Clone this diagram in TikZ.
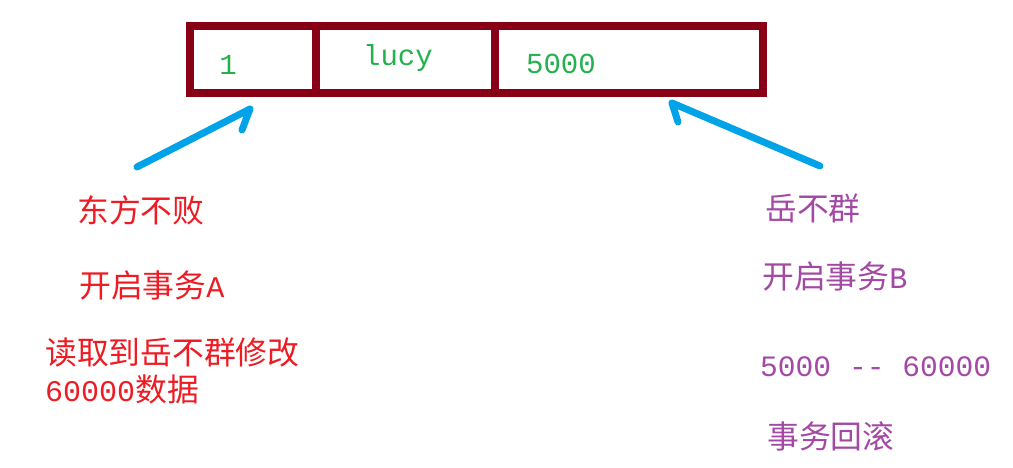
\documentclass[tikz,border=0pt]{standalone}
\usepackage{fontspec}
\setmainfont{Liberation Mono}
\newfontfamily\cjk[Scale=1.06]{Noto Sans CJK SC}
\definecolor{framered}{HTML}{880015}
\definecolor{cellgreen}{HTML}{22B14C}
\definecolor{arrowblue}{HTML}{00A2E8}
\definecolor{txtred}{HTML}{ED1C24}
\definecolor{txtpurple}{HTML}{A349A4}
\tikzset{
  frame/.style={draw=framered, line width=8pt},
  celltxt/.style={text=cellgreen, font=\fontsize{29}{29}\selectfont, inner sep=0pt},
  redtxt/.style={text=txtred, font=\fontsize{30}{34}\selectfont, inner sep=0pt, anchor=west, align=left},
  purtxt/.style={text=txtpurple, font=\fontsize{30}{34}\selectfont, inner sep=0pt, anchor=west},
  bluearrow/.style={draw=arrowblue, line width=7pt, line cap=round, line join=round}
}
\begin{document}
\begin{tikzpicture}[x=1pt,y=-1pt]
\useasboundingbox (0,0) rectangle (1013,468);
% table frame
\draw[frame] (190,26) rectangle (762.5,93);
\draw[frame] (315.5,26) -- (315.5,93);
\draw[frame] (494.5,26) -- (494.5,93);
% cell texts
\node[celltxt] (c1) at (228,65) {1};
\node[celltxt] (c2) at (398,58) {lucy};
\node[celltxt] (c3) at (561,64) {5000};
% left texts
\node[redtxt] (a1) at (77,210) {{\cjk 东方不败}};
\node[redtxt] (a2) at (79,285) {{\cjk 开启事务}A};
\node[redtxt] (a3) at (45,352) {{\cjk 读取到岳不群修改}};
\node[redtxt] (a4) at (45,389) {60000{\cjk 数据}};
% right texts
\node[purtxt] (b1) at (765,208) {{\cjk 岳不群}};
\node[purtxt] (b2) at (762,276) {{\cjk 开启事务}B};
\node[purtxt] (b3) at (760,367) {\fontsize{29.6}{34}\selectfont 5000 -{}- 60000};
\node[purtxt] (b4) at (767,436) {{\cjk 事务回滚}};
% arrows
\coordinate (la0) at (137,167);
\coordinate (la1) at (250,109);
\coordinate (la2) at (242,130);
\coordinate (ra0) at (820,166);
\coordinate (ra1) at (672,103);
\coordinate (ra2) at (678,122);
\draw[bluearrow] (la0) -- (la1) -- (la2);
\draw[bluearrow] (ra0) -- (ra1) -- (ra2);
\end{tikzpicture}
\end{document}
